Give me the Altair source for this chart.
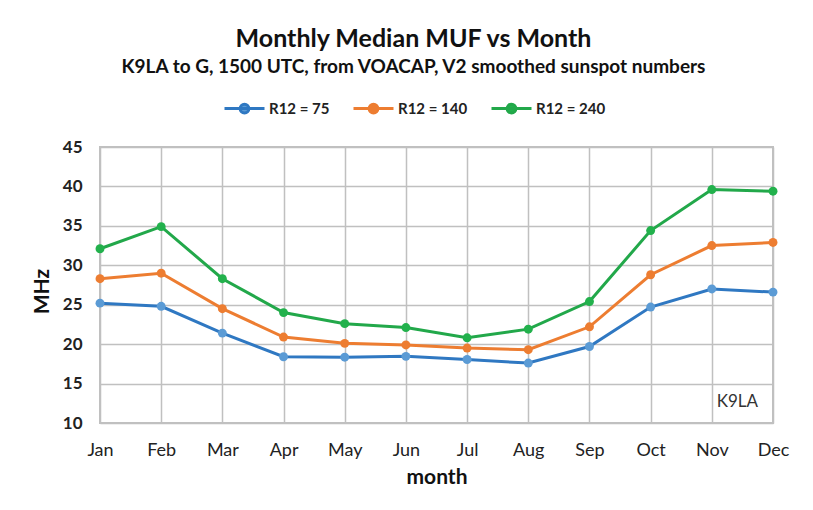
import altair as alt
import pandas as pd

months = ["Jan", "Feb", "Mar", "Apr", "May", "Jun", "Jul", "Aug", "Sep", "Oct", "Nov", "Dec"]
series_names = ["R12 = 75", "R12 = 140", "R12 = 240"]
r75 = [25.2, 24.8, 21.4, 18.4, 18.35, 18.45, 18.05, 17.6, 19.7, 24.7, 27.0, 26.6]
r140 = [28.3, 29.0, 24.5, 20.9, 20.1, 19.9, 19.5, 19.3, 22.2, 28.8, 32.5, 32.9]
r240 = [32.1, 34.9, 28.3, 24.0, 22.6, 22.1, 20.8, 21.9, 25.4, 34.4, 39.6, 39.4]
y_ticks = [10, 15, 20, 25, 30, 35, 40, 45]
line_colors = ["#2f78c2", "#ed7d31", "#22a84a"]
marker_colors = ["#5b9bd5", "#ed7d31", "#22b14c"]

rows = []
for name, vals in zip(series_names, [r75, r140, r240]):
    for m, v in zip(months, vals):
        rows.append({"month": m, "MHz": v, "series": name})
df = pd.DataFrame(rows)

note_df = pd.DataFrame({"month": ["Dec"], "MHz": [12.7], "label": ["K9LA"]})

FONT = "Lato"

x_enc = alt.X("month:N", sort=months, title="month",
              scale=alt.Scale(type="point", padding=0),
              axis=alt.Axis(labelAngle=0, labelFontSize=18, labelPadding=18,
                            labelColor="#222222", titleFontSize=21, titleFontWeight="bold",
                            titlePadding=7, titleColor="#111111", ticks=False, domain=False,
                            labelOverlap=False,
                            grid=True, gridColor="#c0c0c0", gridWidth=1.5))
y_enc = alt.Y("MHz:Q", title="MHz",
              scale=alt.Scale(domain=[10, 45], nice=False, zero=False),
              axis=alt.Axis(values=y_ticks, tickCount=8, labelFontSize=17, labelOverlap=False,
                            labelFontWeight="bold", labelPadding=18, labelColor="#222222",
                            titleFontSize=21, titleFontWeight="bold", titlePadding=10,
                            titleY=144,
                            titleColor="#111111", ticks=False, domain=False,
                            grid=True, gridColor="#c0c0c0", gridWidth=1.5))

legend_common = dict(orient="none", legendX=123, legendY=-60, direction="horizontal",
                     title=None, columns=3)

lines = alt.Chart(df).mark_line(strokeWidth=3).encode(
    x=x_enc, y=y_enc,
    color=alt.Color("series:N", sort=series_names,
                    scale=alt.Scale(domain=series_names, range=line_colors),
                    legend=alt.Legend(**legend_common)),
)
points = alt.Chart(df).mark_circle(size=80, opacity=1).encode(
    x=x_enc, y=y_enc,
    fill=alt.Fill("series:N", sort=series_names,
                  scale=alt.Scale(domain=series_names, range=marker_colors),
                  legend=alt.Legend(**legend_common)),
)
note = alt.Chart(note_df).mark_text(align="right", baseline="middle", dx=-15,
                                    fontSize=17, color="#333333", font=FONT).encode(
    x=x_enc, y=y_enc, text="label:N")

chart = alt.layer(lines, points, note).properties(
    width=673, height=276,
    autosize=alt.AutoSizeParams(type="none"),
    padding={"left": 92, "top": 139, "right": 30, "bottom": 85},
    title=alt.Title("Monthly Median MUF vs Month",
                    subtitle="K9LA to G, 1500  UTC, from VOACAP, V2 smoothed sunspot numbers"),
).configure(font=FONT).configure_view(
    stroke="#c0c0c0", strokeWidth=2
).configure_title(
    fontSize=25, fontWeight="bold", color="#111111", subtitleFontSize=19,
    subtitleFontWeight="bold", subtitleColor="#111111", subtitlePadding=6,
    anchor="middle", dx=-23, offset=10, font=FONT, subtitleFont=FONT
).configure_legend(
    symbolType="M -1 0 L 1 0 M -0.22 0 A 0.22 0.22 0 1 1 0.22 0 A 0.22 0.22 0 1 1 -0.22 0 Z",
    symbolSize=1600, symbolStrokeWidth=3, symbolOpacity=1, labelFontSize=15,
    labelFontWeight="bold", labelColor="#222222", labelFont=FONT, columnPadding=17,
    labelOffset=3, padding=0
)

chart.save("out.html", embed_options={"renderer": "svg", "actions": False})
